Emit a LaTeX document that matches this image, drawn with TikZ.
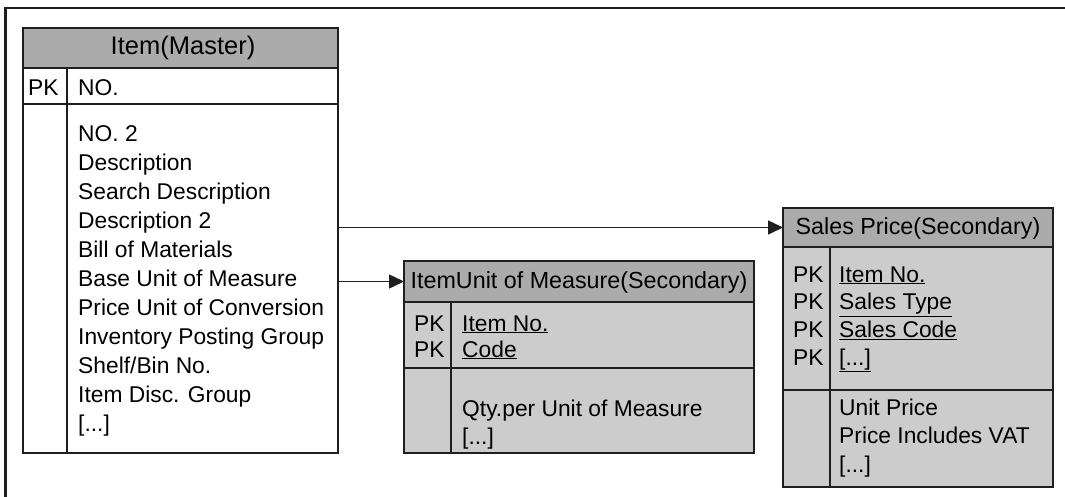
\documentclass[tikz,border=0pt]{standalone}
\usepackage{fontspec}
\setmainfont{Liberation Sans}
\usetikzlibrary{arrows.meta}
\definecolor{hdr}{gray}{0.67}
\definecolor{bdy}{gray}{0.80}
\definecolor{ink}{gray}{0.12}
\newcommand{\brk}{[...]}
\tikzset{
  txt/.style={anchor=base west, inner sep=0pt, font=\fontsize{22.8}{26}\selectfont},
  ttl/.style={anchor=center, inner sep=0pt, font=\fontsize{#1}{28}\selectfont},
  ttl/.default=23.3,
  cell/.style={draw=ink, line width=1.9pt, anchor=north west, inner sep=0pt, outer sep=0pt},
  divider/.style={draw=ink, line width=1.9pt},
  link/.style={draw=ink, line width=1.5pt, -{Triangle[length=15pt,width=14pt]}},
}
\begin{document}
\begin{tikzpicture}[x=1pt,y=-1pt]
\useasboundingbox (0,0) rectangle (1065,496);
% outer frame
\draw[line width=2.6pt, ink] (5.5,497) -- (5.5,8) -- (1066,8);

% ---------- Item(Master)
\node[cell, fill=hdr, minimum width=315pt, minimum height=40pt] (ihdr) at (23,28) {};
\node[cell, fill=white, minimum width=315pt, minimum height=36pt] (ipk) at (23,68) {};
\node[cell, fill=white, minimum width=315pt, minimum height=349pt] (ibody) at (23,104) {};
\draw[divider] ([xshift=44pt]ipk.north west) -- ([xshift=44pt]ibody.south west);
\node[ttl=25.5] (ititle) at (183,48) {Item(Master)};
\node[txt] (ipk1) at (28,95) {PK};
\node[txt] (ino) at (78,95) {NO.};
\foreach \t [count=\i from 0] in {NO. 2, Description, Search Description, Description 2,
  Bill of Materials, Base Unit of Measure, Price Unit of Conversion,
  Inventory Posting Group, Shelf/Bin No., Item Disc. Group, \brk}
  \node[txt] (if\i) at (78,141+29*\i) {\t};

% ---------- ItemUnit of Measure(Secondary)
\node[cell, fill=hdr, minimum width=350pt, minimum height=41pt] (uhdr) at (404,261) {};
\node[cell, fill=bdy, minimum width=350pt, minimum height=66pt] (upk) at (404,302) {};
\node[cell, fill=bdy, minimum width=350pt, minimum height=85pt] (ubody) at (404,368) {};
\draw[divider] ([xshift=47pt]upk.north west) -- ([xshift=47pt]ubody.south west);
\node[ttl] (utitle) at (579,282) {ItemUnit of Measure(Secondary)};
\node[txt] (upk1) at (414,331) {PK};
\node[txt] (upk2) at (414,357) {PK};
\node[txt] (uk1) at (462,331) {\underline{Item No.}};
\node[txt] (uk2) at (462,357) {\underline{Code}};
\node[txt] (uf1) at (462,416) {Qty.per Unit of Measure};
\node[txt] (uf2) at (462,444) {\brk};

% ---------- Sales Price(Secondary)
\node[cell, fill=hdr, minimum width=270pt, minimum height=39pt] (shdr) at (783,208) {};
\node[cell, fill=bdy, minimum width=270pt, minimum height=143pt] (spk) at (783,247) {};
\node[cell, fill=bdy, minimum width=270pt, minimum height=97pt] (sbody) at (783,390) {};
\draw[divider] ([xshift=47pt]spk.north west) -- ([xshift=47pt]sbody.south west);
\node[ttl] (stitle) at (918,228) {Sales Price(Secondary)};
\foreach \t [count=\i from 0] in {Item No., Sales Type, Sales Code, \brk} {
  \node[txt] (spkl\i) at (793,282+27.7*\i) {PK};
  \node[txt] (sk\i) at (839,282+27.7*\i) {\underline{\t}};
}
\foreach \t [count=\i from 0] in {Unit Price, Price Includes VAT, \brk}
  \node[txt] (sf\i) at (839,415+28.5*\i) {\t};

% ---------- connectors
\draw[link] (shdr.west -| ibody.east) -- (shdr.west);
\draw[link] (uhdr.west -| ibody.east) -- (uhdr.west);
\end{tikzpicture}
\end{document}
